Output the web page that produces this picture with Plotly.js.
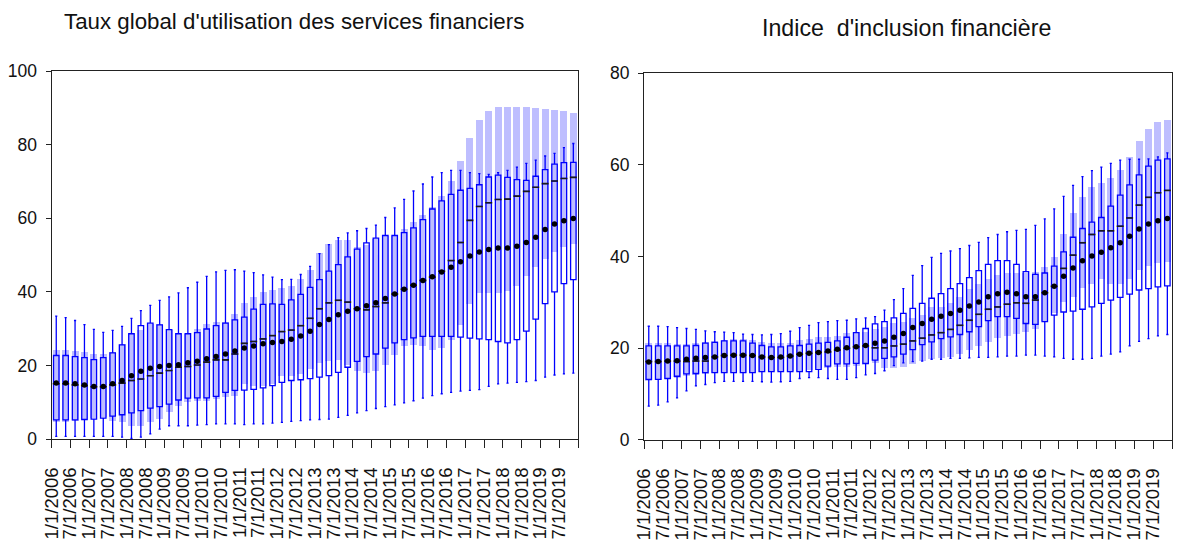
<!DOCTYPE html>
<html>
<head>
<meta charset="utf-8">
<script src="https://cdn.plot.ly/plotly-3.0.1.min.js"></script>
<style>
  html, body { margin: 0; padding: 0; background: #fff; }
  #chart { width: 1177px; height: 540px; }
</style>
</head>
<body>
<div id="chart"></div>
<script>
// Quarterly periods 2006Q1 .. 2019Q4 (56 boxes), labelled every second quarter
const quarterLabels = [
  "1/1/2006","7/1/2006","1/1/2007","7/1/2007","1/1/2008","7/1/2008","1/1/2009","7/1/2009",
  "1/1/2010","7/1/2010","1/1/2011","7/1/2011","1/1/2012","7/1/2012","1/1/2013","7/1/2013",
  "1/1/2014","7/1/2014","1/1/2015","7/1/2015","1/1/2016","7/1/2016","1/1/2017","7/1/2017",
  "1/1/2018","7/1/2018","1/1/2019","7/1/2019"
];

// ---- Taux global d'utilisation des services financiers ----
const tauxWhiskerHigh = [33.4,33.0,32.2,31.1,29.8,29.0,29.5,30.6,32.8,34.9,36.3,37.7,38.6,39.7,41.1,42.6,44.2,45.4,45.8,46.0,45.6,45.2,44.6,44.0,43.3,43.4,44.7,46.9,50.4,52.8,54.7,56.0,56.6,57.2,58.1,60.2,62.8,65.1,67.4,69.3,71.2,72.4,73.0,73.0,72.4,72.1,71.9,72.4,73.0,73.9,74.9,75.8,76.9,77.6,79.2,80.3];
const tauxQ3 = [22.7,22.7,22.4,22.1,21.6,22.1,23.4,25.6,28.6,30.8,31.5,31.0,29.7,28.6,28.6,28.9,29.9,30.8,31.5,32.4,33.1,35.3,36.6,36.7,36.6,37.8,39.3,41.2,43.3,45.6,47.4,49.5,51.6,53.3,54.6,55.3,55.3,56.1,57.4,59.6,62.5,64.7,66.5,67.6,68.1,69.1,71.2,71.7,71.1,70.5,70.3,71.4,73.2,74.7,75.1,75.2];
const tauxMedian = [15.0,15.0,14.7,14.5,14.2,14.2,14.7,15.2,15.9,16.3,17.2,17.9,18.6,19.5,19.7,20.1,20.9,21.5,21.5,23.1,26.0,26.5,27.2,28.1,29.2,29.6,30.8,32.8,35.4,37.0,37.7,37.2,35.4,35.1,36.0,37.0,39.4,40.7,41.8,43.1,44.0,45.6,48.5,53.4,59.4,63.2,64.2,65.1,65.2,66.0,67.3,68.4,69.4,70.1,70.8,71.1];
const tauxMean = [15.2,15.2,15.0,14.7,14.3,14.3,15.0,15.9,17.2,18.4,19.2,19.7,20.0,20.2,20.7,21.1,21.8,22.4,23.1,23.9,24.7,25.3,25.9,26.2,26.5,27.1,28.0,29.3,31.1,32.5,33.8,34.7,35.4,36.2,37.0,38.2,39.4,40.7,41.8,43.1,44.1,45.4,46.7,48.2,49.7,50.8,51.5,51.9,51.9,52.4,53.4,54.8,56.9,58.4,59.3,59.9];
const tauxQ1 = [5.2,5.2,5.2,5.3,5.4,5.7,6.2,6.6,7.1,7.7,8.4,8.8,9.5,10.6,11.1,11.2,11.2,11.6,12.7,13.2,13.3,13.5,13.9,14.5,15.4,15.9,16.1,16.4,16.8,17.2,18.1,19.5,21.1,22.4,23.1,24.7,26.1,27.0,27.5,27.9,27.9,27.9,27.9,27.7,27.4,27.2,27.0,26.5,26.1,27.0,29.3,32.6,36.8,40.0,42.2,43.3];
const tauxWhiskerLow = [0.7,0.7,0.7,0.7,0.7,0.7,0.7,0.5,0.2,0.5,1.4,2.7,3.6,3.6,3.6,3.8,3.9,4.1,4.1,4.1,3.9,4.1,4.1,4.3,4.5,4.8,5.0,5.2,5.3,5.4,5.9,6.4,7.1,7.7,8.3,8.8,9.3,9.8,10.4,11.1,11.8,12.3,12.7,13.0,13.2,13.4,14.3,15.0,15.2,15.4,15.6,15.9,16.8,17.4,17.7,17.9];
const tauxBandHigh = [24.3,24.3,24.0,23.6,23.1,23.1,23.6,25.9,28.6,29.5,31.3,31.3,29.5,28.6,28.6,29.9,31.3,31.8,31.8,34.0,37.0,38.7,39.9,40.6,41.1,41.7,43.6,45.8,50.5,52.9,54.0,54.0,52.2,52.6,54.4,55.3,55.3,57.0,58.9,60.8,63.1,66.0,70.1,75.5,81.9,86.7,89.1,90.2,90.2,90.2,90.2,90.0,89.7,89.4,89.1,88.7];
const tauxBandLow = [4.5,4.7,4.8,5.2,5.6,5.9,5.0,4.5,3.6,3.6,4.5,5.4,7.3,9.1,10.0,10.4,10.4,10.9,11.3,11.8,15.0,14.5,14.5,15.0,17.2,17.2,17.7,18.9,20.6,21.1,21.5,20.0,18.6,17.9,18.4,20.0,22.7,25.4,25.6,25.4,24.2,24.7,27.0,31.0,36.6,39.7,39.7,39.7,40.2,41.7,44.4,46.7,49.0,50.8,52.2,52.9];

// ---- Indice d'inclusion financière ----
const indiceWhiskerHigh = [24.8,24.8,24.7,24.5,24.3,24.1,23.8,23.6,23.5,23.4,23.1,23.0,22.9,23.0,23.2,23.7,24.5,25.0,25.6,25.8,26.0,26.1,26.4,26.6,26.9,28.3,30.6,33.0,35.9,38.0,39.8,40.7,41.2,41.7,42.4,43.1,44.1,44.8,45.4,45.7,45.9,46.8,48.2,50.4,53.1,55.5,57.4,58.7,59.5,60.3,61.0,61.2,61.2,61.3,61.7,62.6];
const indiceQ3 = [20.5,20.5,20.5,20.5,20.5,20.6,21.1,21.3,21.6,21.6,21.6,21.1,20.6,20.3,20.3,20.5,20.6,20.9,21.1,21.3,21.6,22.4,23.4,24.3,25.3,25.8,26.6,27.6,28.7,29.8,30.9,31.9,33.0,34.1,35.4,36.9,38.3,39.1,39.1,38.3,36.7,36.1,36.4,37.9,41.0,44.2,46.1,47.5,48.5,51.0,53.4,55.6,57.8,59.7,61.0,61.3];
const indiceMedian = [17.1,17.1,17.2,17.2,17.1,17.2,17.2,18.1,18.4,18.5,18.5,18.4,18.1,18.0,18.0,18.3,18.7,18.9,19.1,19.2,19.6,20.0,20.3,20.5,20.1,20.1,20.5,20.9,21.6,22.2,22.9,23.4,24.1,25.0,26.1,27.4,28.5,29.0,29.6,29.9,29.8,30.5,32.1,33.5,37.4,40.3,43.0,44.8,45.6,45.6,46.6,48.4,51.2,52.9,53.9,54.4];
const indiceMean = [17.0,17.1,17.2,17.3,17.6,17.8,18.0,18.1,18.4,18.5,18.5,18.4,18.1,18.0,18.1,18.3,18.7,18.9,19.1,19.4,19.8,20.1,20.3,20.6,21.1,21.6,22.4,23.2,24.5,25.4,26.3,27.0,27.6,28.3,29.2,30.1,31.2,31.9,32.2,31.9,31.2,31.2,32.1,33.5,35.7,37.5,39.1,40.1,40.9,41.9,43.0,44.4,46.0,47.1,47.8,48.3];
const indiceQ1 = [13.2,13.2,13.4,13.9,14.4,14.5,14.7,14.7,14.7,14.7,14.7,14.7,14.9,14.9,14.9,14.9,14.9,14.9,15.4,16.1,16.6,16.6,16.7,16.7,17.4,17.8,18.1,18.7,19.7,20.8,21.4,22.1,22.5,23.0,23.6,24.7,26.0,26.9,26.9,26.5,25.4,25.2,25.8,27.2,27.9,28.1,28.5,29.0,29.8,30.5,31.1,31.8,32.7,33.0,33.4,33.6];
const indiceWhiskerLow = [7.4,7.6,8.3,9.2,10.7,11.8,12.1,12.5,12.8,12.8,12.8,12.8,12.7,12.6,12.7,12.8,13.4,13.6,13.6,13.4,13.2,13.2,13.6,14.2,14.5,15.1,16.2,16.8,17.1,17.2,17.6,17.6,17.8,17.8,17.9,18.0,18.0,18.1,18.3,18.3,18.5,18.5,18.3,18.1,17.8,17.6,17.6,17.8,18.3,18.7,19.2,20.5,21.5,22.1,22.7,23.0];
const indiceBandHigh = [21.2,21.2,21.1,20.9,20.9,21.1,21.4,21.6,21.9,22.1,22.1,21.9,21.4,21.1,21.1,21.2,21.8,22.1,22.5,22.5,22.7,23.4,23.6,23.6,24.3,24.7,25.4,25.8,26.5,27.2,29.0,29.0,29.8,31.2,32.9,34.1,35.2,35.9,36.4,36.4,36.4,36.7,37.7,39.9,44.9,49.4,53.0,55.2,56.0,57.1,58.8,61.6,65.2,67.7,69.3,69.8];
const indiceBandLow = [12.9,13.1,13.4,13.6,13.9,14.2,14.4,14.5,14.7,14.7,14.7,14.7,14.9,15.1,15.0,15.0,15.1,15.2,15.6,15.8,16.0,16.0,16.1,16.3,16.7,15.6,15.6,16.0,16.6,17.3,17.6,17.8,18.1,18.7,19.6,20.5,21.4,22.3,22.7,23.2,23.6,24.3,26.0,27.6,30.1,31.2,33.2,34.1,35.1,34.0,34.0,35.1,37.0,38.0,38.5,38.8];

const positions = tauxMedian.map((_, i) => i);

const BLUE = 'rgb(0,0,255)';
const BAND = 'rgb(190,190,255)';
const FONT = 'Liberation Sans, Arial, sans-serif';

function panelTraces(xa, ya, d) {
  return [
    {
      // shaded band behind each box
      type: 'bar', xaxis: xa, yaxis: ya,
      x: positions,
      base: d.bandLow,
      y: d.bandHigh.map((h, i) => h - d.bandLow[i]),
      width: 0.74,
      marker: { color: BAND, line: { width: 0 } },
      hoverinfo: 'skip', showlegend: false
    },
    {
      type: 'box', xaxis: xa, yaxis: ya,
      x: positions,
      q1: d.q1, median: d.median, q3: d.q3,
      lowerfence: d.low, upperfence: d.high,
      width: 0.58,
      whiskerwidth: 0.4,
      boxpoints: false,
      fillcolor: 'rgba(0,0,0,0)',
      line: { color: BLUE, width: 1.3 },
      hoverinfo: 'skip', showlegend: false
    },
    {
      // median ticks
      type: 'scatter', mode: 'markers', xaxis: xa, yaxis: ya,
      x: positions, y: d.median,
      marker: { symbol: 'line-ew', size: 5, line: { color: '#1a1a1a', width: 1.6 } },
      hoverinfo: 'skip', showlegend: false
    },
    {
      // means
      type: 'scatter', mode: 'markers', xaxis: xa, yaxis: ya,
      x: positions, y: d.mean,
      marker: { symbol: 'circle', size: 5.5, color: '#000' },
      hoverinfo: 'skip', showlegend: false
    }
  ];
}

const data = [].concat(
  panelTraces('x', 'y', {
    bandLow: tauxBandLow, bandHigh: tauxBandHigh, q1: tauxQ1, median: tauxMedian,
    q3: tauxQ3, low: tauxWhiskerLow, high: tauxWhiskerHigh, mean: tauxMean
  }),
  panelTraces('x2', 'y2', {
    bandLow: indiceBandLow, bandHigh: indiceBandHigh, q1: indiceQ1, median: indiceMedian,
    q3: indiceQ3, low: indiceWhiskerLow, high: indiceWhiskerHigh, mean: indiceMean
  })
);

// ticks sit between quarters; labels belong to the quarter that follows the tick
const tickPos = [];
const tickText = [];
for (let k = 0; k <= 28; k++) {
  tickPos.push(2 * k - 0.5);
  tickText.push(k < quarterLabels.length ? quarterLabels[k] : '');
}

function xAxis(domain, anchor) {
  return {
    domain: domain, anchor: anchor,
    range: [-0.5, 55.5],
    tickmode: 'array', tickvals: tickPos, ticktext: tickText,
    tickangle: -90,
    ticks: 'outside', ticklen: 8, tickwidth: 1, tickcolor: '#222',
    ticklabelshift: 4.5, ticklabelstandoff: 12,
    tickfont: { family: FONT, size: 18.5, color: '#111' },
    showline: true, linecolor: '#222', linewidth: 1, mirror: true,
    showgrid: false, zeroline: false, fixedrange: true
  };
}

function yAxis(domain, anchor, top, step) {
  const vals = [];
  for (let v = 0; v <= top; v += step) vals.push(v);
  return {
    domain: domain, anchor: anchor,
    range: [0, top],
    tickmode: 'array', tickvals: vals,
    ticks: 'outside', ticklen: 5, tickwidth: 1, tickcolor: '#222',
    ticklabelstandoff: 5,
    tickfont: { family: FONT, size: 17.5, color: '#111' },
    showline: true, linecolor: '#222', linewidth: 1, mirror: true,
    showgrid: false, zeroline: false, fixedrange: true
  };
}

const layout = {
  width: 1177, height: 540,
  margin: { l: 0, r: 0, t: 0, b: 0 },
  paper_bgcolor: '#fff', plot_bgcolor: '#fff',
  bargap: 0, barmode: 'overlay',
  showlegend: false,
  xaxis: xAxis([0.0438, 0.4911], 'y'),
  yaxis: yAxis([0.1870, 0.8685], 'x', 100, 20),
  xaxis2: xAxis([0.5472, 0.9958], 'y2'),
  yaxis2: yAxis([0.1852, 0.8648], 'x2', 80, 20),
  annotations: [
    {
      text: "Taux global d'utilisation des services financiers",
      xref: 'paper', yref: 'paper', x: 0.2498, y: 1 - 7 / 540,
      xanchor: 'center', yanchor: 'top', showarrow: false,
      font: { family: FONT, size: 22.3, color: '#111' }
    },
    {
      text: "Indice  d'inclusion financière",
      xref: 'paper', yref: 'paper', x: 0.7706, y: 1 - 13 / 540,
      xanchor: 'center', yanchor: 'top', showarrow: false,
      font: { family: FONT, size: 23.2, color: '#111' }
    }
  ]
};

Plotly.newPlot('chart', data, layout, { displayModeBar: false, staticPlot: true });
</script>
</body>
</html>
